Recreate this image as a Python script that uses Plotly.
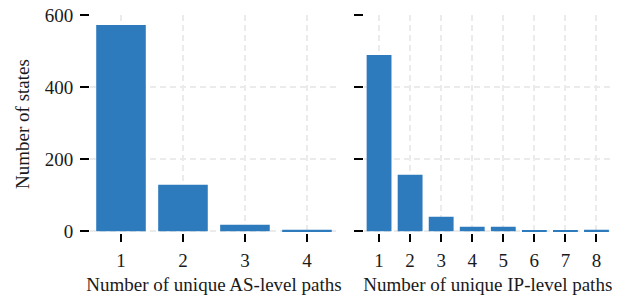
import plotly.graph_objects as go
from plotly.subplots import make_subplots

as_paths = [1, 2, 3, 4]
as_counts = [572, 129, 18, 4]
ip_paths = [1, 2, 3, 4, 5, 6, 7, 8]
ip_counts = [489, 157, 40, 12, 12, 1, 1, 4]

y_ticks = [0, 200, 400, 600]
bar_color = "#2d7bbd"
font_family = "Liberation Serif"
fs = 19

fig = make_subplots(rows=1, cols=2, shared_yaxes=True, horizontal_spacing=0.05)
fig.add_trace(go.Bar(x=as_paths, y=as_counts, marker_color=bar_color, width=0.8,
                     marker_line_width=0), row=1, col=1)
fig.add_trace(go.Bar(x=ip_paths, y=ip_counts, marker_color=bar_color, width=0.8,
                     marker_line_width=0), row=1, col=2)

grid = dict(showgrid=True, gridcolor="#ebebeb", gridwidth=1.5, griddash="6px,4px",
            zeroline=False, showline=False, automargin=False,
            ticks="outside", tickcolor="black", tickwidth=2,
            tickfont=dict(family=font_family, size=fs, color="#1a1a1a"))

fig.update_xaxes(**grid, ticklen=8, ticklabelstandoff=2)
fig.update_yaxes(**grid, ticklen=9)

fig.update_layout(
    width=624, height=297,
    margin=dict(l=90, r=12, t=15, b=64),
    plot_bgcolor="white", paper_bgcolor="white",
    showlegend=False, bargap=0.2,
    font=dict(family=font_family, size=fs, color="#1a1a1a"),
    xaxis=dict(domain=[0, 0.475], range=[0.5, 4.5], tickvals=as_paths,
               title=dict(text="Number of unique AS-level paths", standoff=7,
                          font=dict(family=font_family, size=fs))),
    xaxis2=dict(domain=[0.524, 1], range=[0.5, 8.5], tickvals=ip_paths,
                title=dict(text="Number of unique IP-level paths", standoff=7,
                           font=dict(family=font_family, size=fs))),
    yaxis=dict(range=[-5, 600], tickvals=y_ticks, ticklabelstandoff=3,
               title=dict(text="Number of states", standoff=10,
                          font=dict(family=font_family, size=fs))),
    yaxis2=dict(range=[-5, 600], tickvals=y_ticks, showticklabels=False),
)

fig.write_html("out.html", config={"displayModeBar": False},
               post_script="document.body.style.margin='0';document.body.style.padding='0';")
